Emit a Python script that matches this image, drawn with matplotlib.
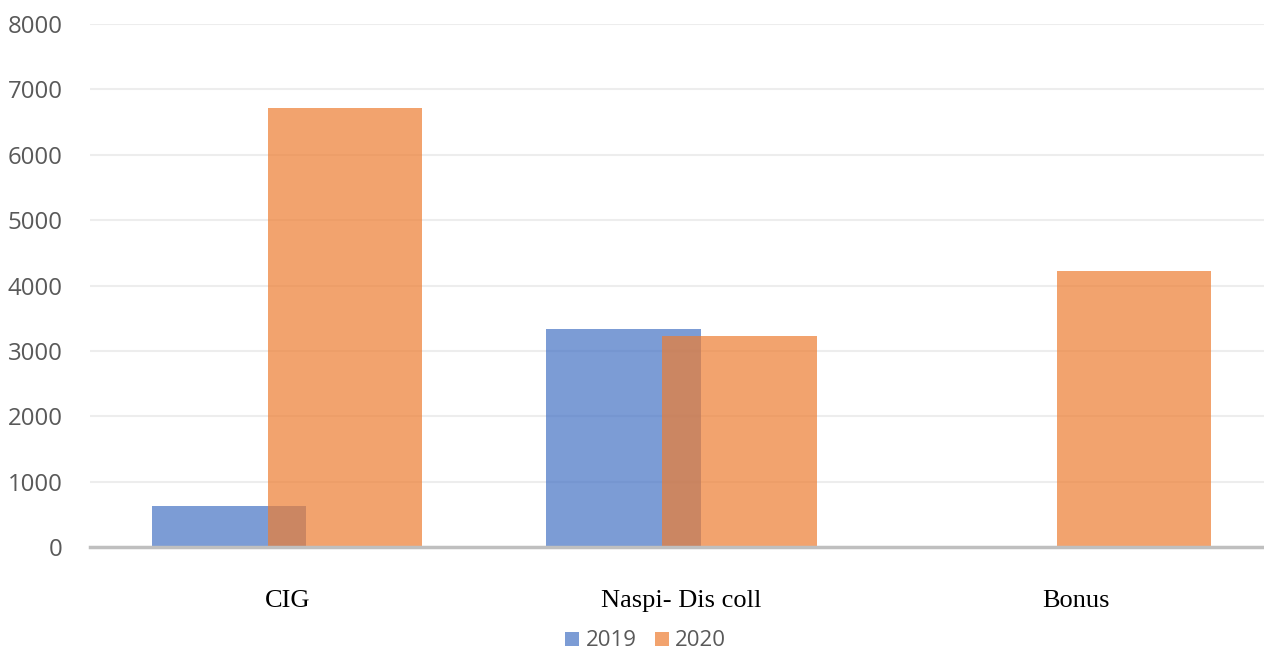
import matplotlib
matplotlib.use("Agg")
import matplotlib.pyplot as plt
import numpy as np
from matplotlib.patches import Patch

categories = ["CIG", "Naspi- Dis coll", "Bonus"]
series_names = ["2019", "2020"]
values_2019 = [627, 3330, 0]
values_2020 = [6715, 3225, 4225]

fig = plt.figure(figsize=(12.64, 6.54), dpi=100)
ax = fig.add_axes([0.0712, 0.1636, 0.9288, 0.7997])

x = np.arange(len(categories))
width = 0.392
offset = 0.147
blue = "#4472C4"
orange = "#ED7D31"
alpha = 0.7

ax.bar(x - offset, values_2019, width, color=blue, alpha=alpha, zorder=2, linewidth=0)
ax.bar(x + offset, values_2020, width, color=orange, alpha=alpha, zorder=3, linewidth=0)

ax.set_xlim(-0.5, 2.477)
ax.set_ylim(0, 8000)
ax.set_yticks(np.arange(0, 8001, 1000))
ax.yaxis.grid(True, color="#EDEDED", linewidth=1.5, zorder=0)
ax.set_axisbelow(True)

for s in ["top", "right", "left"]:
    ax.spines[s].set_visible(False)
ax.spines["bottom"].set_color("#BFBFBF")
ax.spines["bottom"].set_linewidth(2.5)
ax.spines["bottom"].set_zorder(4)

ax.tick_params(axis="y", length=0, pad=19.5, labelsize=17.3, labelcolor="#595959")
for lbl in ax.get_yticklabels():
    lbl.set_fontfamily("Open Sans")

ax.set_xticks(x)
ax.set_xticklabels(categories, fontfamily="Liberation Serif", fontsize=19, color="black")
ax.tick_params(axis="x", length=0, pad=31)

handles = [Patch(facecolor=blue, alpha=alpha, label=series_names[0]),
           Patch(facecolor=orange, alpha=alpha, label=series_names[1])]
fig.legend(handles=handles, loc="center", bbox_to_anchor=(0.511, 0.02), ncol=2,
           frameon=False, prop={"family": "Open Sans", "size": 16},
           labelcolor="#595959", handlelength=0.6, handleheight=0.6,
           handletextpad=0.3, columnspacing=0.85, borderpad=0.1)

fig.savefig("out.png", dpi=100)
